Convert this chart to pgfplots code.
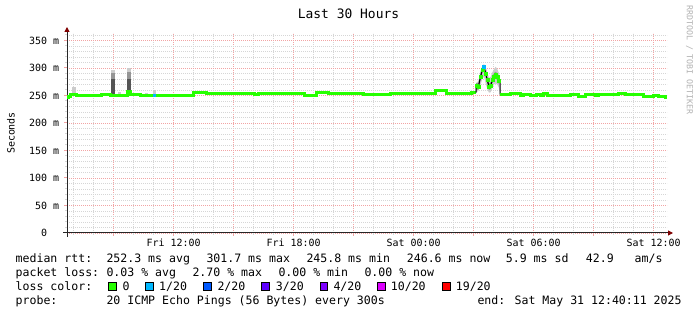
\documentclass[border=0pt]{standalone}
\usepackage{fontspec}
\setmainfont{DejaVu Sans Mono}
\setmonofont{DejaVu Sans Mono}
\usepackage{pgfplots}
\pgfplotsset{compat=1.18}
\usetikzlibrary{arrows.meta}
\definecolor{lgreen}{HTML}{26FF00}
\definecolor{lone}{HTML}{00B8FF}
\definecolor{ltwo}{HTML}{0059FF}
\definecolor{lthree}{HTML}{5E00FF}
\definecolor{lfour}{HTML}{7E00FF}
\definecolor{lten}{HTML}{DD00FF}
\definecolor{lnineteen}{HTML}{FF0000}
\definecolor{mgrid}{HTML}{F2A4A4}
\definecolor{ngrid}{HTML}{D6D6D6}
\definecolor{arrowred}{HTML}{800000}
\definecolor{smokeA}{HTML}{CCCCCC}
\definecolor{smokeB}{HTML}{959595}
\definecolor{smokeC}{HTML}{555555}
\newcommand{\lfont}{\fontsize{11.6}{14}\selectfont}
\begin{document}
\begin{tikzpicture}
\fill[white] (0bp,0bp) rectangle (697bp,315bp);
\useasboundingbox (0bp,0bp) rectangle (697bp,315bp);
\begin{axis}[
  at={(67bp,82bp)}, anchor=south west,
  scale only axis, width=600bp, height=200bp,
  xmin=6.67, xmax=36.67, ymin=0, ymax=363.6,
  axis x line=bottom, axis y line=left,
  x axis line style={line width=1bp, color=black!85, shorten >=-6bp, shorten <=-4bp, -{Triangle[length=5bp,width=5bp,color=arrowred]}},
  y axis line style={line width=1bp, color=black!85, shorten >=-6bp, shorten <=-4bp, -{Triangle[length=5bp,width=5bp,color=arrowred]}},
  xtick={9,12,...,36},
  xticklabels={,Fri 12:00,,Fri 18:00,,Sat 00:00,,Sat 06:00,,Sat 12:00},
  minor xtick={7,8,10,11,13,14,16,17,19,20,22,23,25,26,28,29,31,32,34,35},
  ytick={0,50,...,350},
  yticklabels={0\hphantom{\ m},50 m,100 m,150 m,200 m,250 m,300 m,350 m},
  minor ytick={10,20,30,40,60,70,80,90,110,120,130,140,160,170,180,190,210,220,230,240,260,270,280,290,310,320,330,340,360},
  grid=both,
  major grid style={color=mgrid, line width=0.8bp, dash pattern=on 1bp off 1bp},
  minor grid style={color=ngrid, line width=0.8bp, dash pattern=on 1bp off 1bp},
  tick align=outside, major tick length=3bp, minor tick length=2bp,
  major tick style={color=mgrid, line width=1bp},
  minor tick style={color=ngrid, line width=1bp},
  tick label style={font=\fontsize{10}{12}\selectfont, text=black},
  xticklabel style={anchor=north, inner sep=0pt, yshift=-3bp},
  yticklabel style={anchor=east, inner sep=0pt, xshift=-4.7bp},
]
% smoke
\addplot[fill=smokeA, draw=none, forget plot] coordinates {(6.92,253)(7.12,253)(7.12,266)(6.92,266)};
\addplot[fill=smokeA, draw=none, forget plot] coordinates {(8.855,251)(9.07,251)(9.07,296)(8.855,296)};
\addplot[fill=smokeB, draw=none, forget plot] coordinates {(8.855,251)(9.07,251)(9.07,290)(8.855,290)};
\addplot[fill=smokeC, draw=none, forget plot] coordinates {(8.855,251)(9.07,251)(9.07,280)(8.855,280)};
\addplot[fill=smokeA, draw=none, forget plot] coordinates {(9.655,251)(9.855,251)(9.855,300)(9.655,300)};
\addplot[fill=smokeB, draw=none, forget plot] coordinates {(9.655,251)(9.855,251)(9.855,292)(9.655,292)};
\addplot[fill=smokeC, draw=none, forget plot] coordinates {(9.655,251)(9.855,251)(9.855,280)(9.655,280)};
\addplot[fill=smokeA, draw=none, forget plot] coordinates {(9.22,252)(9.37,252)(9.37,257)(9.22,257)};
\addplot[fill=smokeA, draw=none, forget plot] coordinates {(10.57,251)(10.72,251)(10.72,255)(10.57,255)};
\addplot[fill=smokeA, draw=none, forget plot] coordinates {(10.955,251)(11.12,251)(11.12,260)(10.955,260)};
\addplot[fill=smokeA, draw=none, forget plot] coordinates {
 (27.07,256)(27.12,272)(27.235,276)(27.355,296)(27.435,304)(27.52,307)(27.605,302)(27.685,292)(27.77,282)(27.855,284)(27.935,292)(28.02,298)(28.105,302)(28.185,298)(28.27,290)(28.32,262)
 (28.32,250)(28.27,264)(28.185,270)(28.105,272)(28.02,270)(27.935,264)(27.855,256)(27.77,255)(27.685,262)(27.605,272)(27.52,284)(27.435,280)(27.355,270)(27.235,258)(27.12,256)(27.07,252)};
\addplot[fill=smokeB, draw=none, forget plot] coordinates {
 (27.12,273)(27.235,272)(27.355,291)(27.435,302)(27.52,305)(27.605,296)(27.685,284)(27.77,272)(27.855,274)(27.935,284)(28.02,291)(28.105,293)(28.185,290)(28.27,282)
 (28.27,270)(28.185,278)(28.105,281)(28.02,279)(27.935,272)(27.855,262)(27.77,260)(27.685,272)(27.605,284)(27.52,296)(27.435,291)(27.355,279)(27.235,260)(27.12,261)};
\addplot[fill=smokeC, draw=none, forget plot] coordinates {
 (27.12,270)(27.235,269)(27.355,288)(27.435,300)(27.52,303)(27.605,293)(27.685,281)(27.77,269)(27.855,271)(27.935,281)(28.02,288)(28.105,290)(28.185,287)(28.27,279)
 (28.27,273)(28.185,281)(28.105,284)(28.02,282)(27.935,275)(27.855,265)(27.77,263)(27.685,275)(27.605,287)(27.52,299)(27.435,294)(27.355,282)(27.235,263)(27.12,264)};
% median, part A
\addplot[const plot, no marks, color=lgreen, line width=3bp] coordinates {
 (6.67,245.8)(6.75,248)(6.82,251.5)(7.155,249.7)(8.405,251.5)(8.82,250.3)(9.705,257)(9.82,251.5)(10.32,249.7)
 (12.985,255)(13.655,253.3)(14.07,252.7)(15.32,254.5)(16.035,251)(16.235,254.5)(18.07,254)(18.535,249.7)
 (19.155,255)(19.735,253)(20.235,254.5)(20.57,253)(20.985,254.5)(21.485,252)(22.82,253.3)(23.655,253)
 (23.985,254)(25.07,258.7)(25.655,254)(26.655,253)(26.905,255)(27.12,255)};
\addplot[no marks, color=lone, line width=3bp] coordinates {(10.985,249.7)(11.12,249.7)};
% median, spike
\addplot[sharp plot, no marks, color=black, line width=1bp] coordinates {
 (27.12,255)(27.12,267)(27.235,266)(27.355,285)(27.435,297)(27.52,301.7)(27.605,290)(27.685,278)(27.77,266)
 (27.855,268)(27.935,278)(28.02,285)(28.105,287)(28.185,284)(28.27,276)(28.32,276)(28.32,251.5)};
\addplot[only marks, mark=square*, mark size=1.5bp, color=lgreen] coordinates {
 (27.17,267)(27.235,266)(27.355,285)(27.435,297)(27.605,290)(27.685,278)(27.77,266)(27.855,268)
 (27.935,278)(28.02,285)(28.105,287)(28.185,284)(28.27,276)};
\addplot[only marks, mark=square*, mark size=1.5bp, color=lone] coordinates {(27.52,301.7)};
% median, part B
\addplot[const plot, no marks, color=lgreen, line width=3bp] coordinates {
 (28.32,251.5)(28.82,253.5)(29.07,253)(29.32,250)(29.49,251.5)(29.82,250.5)(30.12,251.5)(30.32,250.5)
 (30.485,253)(30.685,249.7)(31.82,251)(32.235,247.3)(32.57,251)(33.07,250)(33.235,251)(33.485,252.5)
 (33.685,251.5)(34.235,253)(34.57,251.5)(35.485,248.5)(35.985,249.7)(36.235,247.3)(36.57,246.6)(36.67,246.6)};
\end{axis}
% title and side texts
\node[anchor=base, inner sep=0pt, font=\fontsize{13}{15}\selectfont] at (348.5bp,296.7bp) {Last 30 Hours};
\node[rotate=90, inner sep=0pt, font=\fontsize{10}{12}\selectfont] at (11bp,182bp) {Seconds};
\node[rotate=-90, anchor=west, inner sep=0pt, text=black!30, font=\fontsize{8.3}{10}\selectfont] at (689.5bp,310bp) {RRDTOOL / TOBI OETIKER};
% legend
\begin{scope}[every node/.style={anchor=base west, inner sep=0pt, font=\lfont}]
\node at (15.5bp,52.3bp) {median rtt:};
\node at (106.3bp,52.3bp) {252.3 ms avg};
\node at (206.3bp,52.3bp) {301.7 ms max};
\node at (306.3bp,52.3bp) {245.8 ms min};
\node at (406.7bp,52.3bp) {246.6 ms now};
\node at (505.7bp,52.3bp) {5.9 ms sd};
\node at (585.7bp,52.3bp) {42.9};
\node at (634.5bp,52.3bp) {am/s};
\node at (15.5bp,38.3bp) {packet loss:};
\node at (106.3bp,38.3bp) {0.03 \% avg};
\node at (192.3bp,38.3bp) {2.70 \% max};
\node at (278.3bp,38.3bp) {0.00 \% min};
\node at (364.3bp,38.3bp) {0.00 \% now};
\node at (15.5bp,24.3bp) {loss color:};
\node at (122.3bp,24.3bp) {0};
\node at (159bp,24.3bp) {1/20};
\node at (217.3bp,24.3bp) {2/20};
\node at (275.7bp,24.3bp) {3/20};
\node at (333.3bp,24.3bp) {4/20};
\node at (390.7bp,24.3bp) {10/20};
\node at (455.7bp,24.3bp) {19/20};
\node at (15.5bp,10.8bp) {probe:};
\node at (106.3bp,10.8bp) {20 ICMP Echo Pings (56 Bytes) every 300s};
\node at (477.3bp,10.8bp) {end: Sat May 31 12:40:11 2025};
\end{scope}
\draw[line width=0.8bp, fill=lgreen] (108.3bp,24.3bp) rectangle (116bp,33bp);
\draw[line width=0.8bp, fill=lone] (145.7bp,24.3bp) rectangle (153.3bp,33bp);
\draw[line width=0.8bp, fill=ltwo] (203.3bp,24.3bp) rectangle (211bp,33bp);
\draw[line width=0.8bp, fill=lthree] (261.7bp,24.3bp) rectangle (269.3bp,33bp);
\draw[line width=0.8bp, fill=lfour] (320bp,24.3bp) rectangle (327.7bp,33bp);
\draw[line width=0.8bp, fill=lten] (377.7bp,24.3bp) rectangle (385.3bp,33bp);
\draw[line width=0.8bp, fill=lnineteen] (442.3bp,24.3bp) rectangle (450bp,33bp);
\end{tikzpicture}
\end{document}
